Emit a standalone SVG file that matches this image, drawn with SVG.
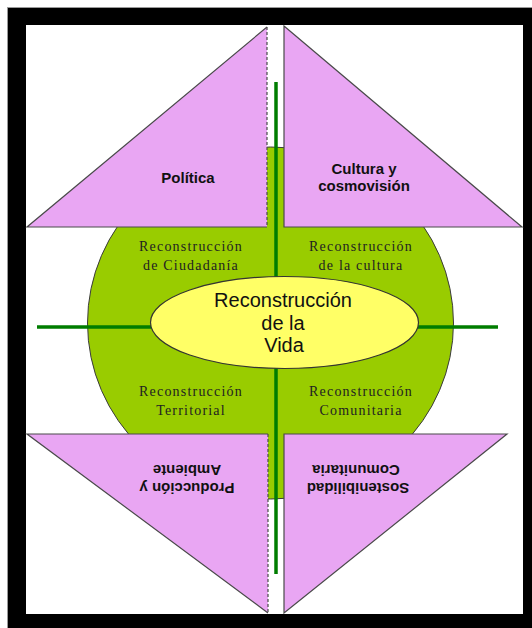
<svg xmlns="http://www.w3.org/2000/svg" width="532" height="628" viewBox="0 0 532 628">
  <style>
    .tri { fill: #e9a6f3; stroke: none; }
    .edge { fill: none; stroke: #4a4a4a; stroke-width: 1.2; }
    .dash { fill: none; stroke: #4a4a4a; stroke-width: 1.2; stroke-dasharray: 3 2; }
    .tl { font-family: "Liberation Sans", Arial, sans-serif; font-weight: bold; font-size: 15px; fill: #111; text-anchor: middle; }
    .ql { font-family: "Liberation Serif", "Times New Roman", serif; font-size: 14px; letter-spacing: 1.2px; fill: #222; text-anchor: middle; }
    .cl { font-family: "Liberation Sans", Arial, sans-serif; font-size: 20px; fill: #111; text-anchor: middle; }
    .axis { stroke: #007d00; stroke-width: 3.5; fill: none; }
  </style>

  <g id="frame">
    <rect x="7" y="7" width="525" height="621" fill="#9a9a9a"/>
    <rect x="8" y="8" width="524" height="620" fill="#000"/>
    <rect x="26" y="25" width="497" height="589" fill="#fff"/>
  </g>

  <g id="base-circle">
    <ellipse cx="270.5" cy="323" rx="183" ry="176" fill="#99cc00" stroke="#3a3a3a" stroke-width="1"/>
  </g>

  <g id="connectors">
    <line class="axis" x1="276" y1="82" x2="276" y2="574"/>
    <line class="axis" x1="37" y1="327" x2="498" y2="327"/>
  </g>

  <g id="center">
    <ellipse cx="284.5" cy="322.5" rx="134" ry="46" fill="#ffff66" stroke="#333" stroke-width="1.2"/>
    <text class="cl" x="283" y="307">Reconstrucción</text>
    <text class="cl" x="283" y="330">de la</text>
    <text class="cl" x="284" y="352">Vida</text>
  </g>

  <g id="q-ciudadania">
    <text class="ql" x="191" y="251">Reconstrucción</text>
    <text class="ql" x="191" y="270">de Ciudadanía</text>
  </g>
  <g id="q-cultura">
    <text class="ql" x="361" y="251">Reconstrucción</text>
    <text class="ql" x="361" y="270">de la cultura</text>
  </g>
  <g id="q-territorial">
    <text class="ql" x="191" y="396">Reconstrucción</text>
    <text class="ql" x="191" y="415">Territorial</text>
  </g>
  <g id="q-comunitaria">
    <text class="ql" x="361" y="396">Reconstrucción</text>
    <text class="ql" x="361" y="415">Comunitaria</text>
  </g>

  <g id="politica">
    <polygon class="tri" points="267,27 267,227 27,227"/>
    <path class="edge" d="M267,27 L27,227 L267,227"/>
    <line class="dash" x1="267" y1="27" x2="267" y2="227"/>
    <text class="tl" x="188" y="183">Política</text>
  </g>

  <g id="cultura-cosmovision">
    <polygon class="tri" points="284,26 284,227 522,227"/>
    <path class="edge" d="M284,26 L522,227 L284,227 Z"/>
    <text class="tl" x="364" y="174">Cultura y</text>
    <text class="tl" x="364" y="191">cosmovisión</text>
  </g>

  <g id="produccion-ambiente">
    <polygon class="tri" points="27,434 268,434 268,613"/>
    <path class="edge" d="M268,434 L27,434 L268,613"/>
    <line class="dash" x1="268" y1="434" x2="268" y2="613"/>
    <g transform="rotate(180 187 478)">
      <text class="tl" x="187" y="473">Producción y</text>
      <text class="tl" x="187" y="491">Ambiente</text>
    </g>
  </g>

  <g id="sostenibilidad-comunitaria">
    <polygon class="tri" points="284,434 507,434 284,613"/>
    <path class="edge" d="M284,434 L507,434 L284,613 Z"/>
    <g transform="rotate(180 358 478)">
      <text class="tl" x="358" y="473">Sostenibilidad</text>
      <text class="tl" x="360" y="491">Comunitaria</text>
    </g>
  </g>
</svg>
